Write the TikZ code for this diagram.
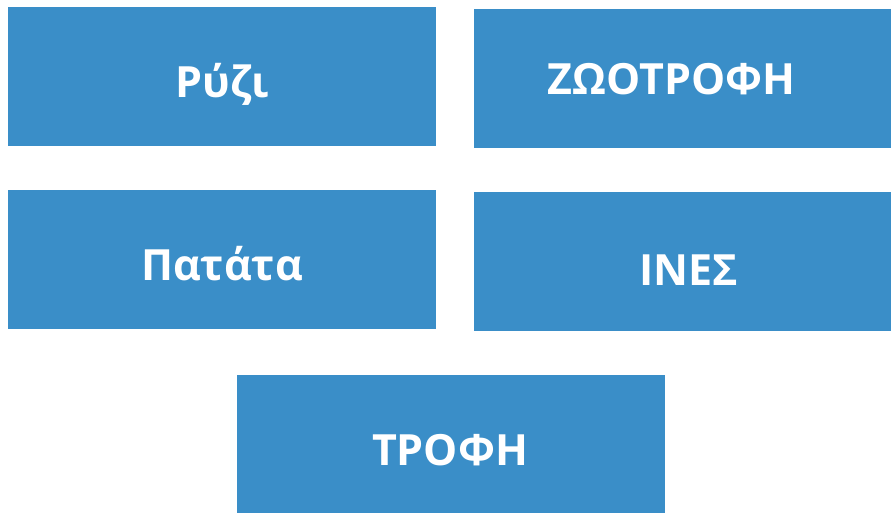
\documentclass[tikz,border=0pt]{standalone}
\usepackage{fontspec}
\setmainfont{Open Sans}
\definecolor{boxblue}{RGB}{58,142,200}
\begin{document}
\begin{tikzpicture}[x=1pt,y=-1pt,
  box/.style={fill=boxblue,draw=none},
  lbl/.style={text=white,font=\fontsize{43}{50}\selectfont\bfseries,anchor=base,inner sep=0pt}]
\useasboundingbox (0,0) rectangle (891,515);
\fill[box] (8,7) rectangle (436,146);
\fill[box] (474,9) rectangle (891,148);
\fill[box] (8,190) rectangle (436,329);
\fill[box] (474,192) rectangle (891,331);
\fill[box] (237,375) rectangle (665,513);
\node[lbl] (ryzi) at (222.5,97) {Ρύζι};
\node[lbl] (zootrofi) at (671.5,94) {ΖΩΟΤΡΟΦΗ};
\node[lbl] (patata) at (222,280) {Πατάτα};
\node[lbl] (ines) at (689,285) {ΙΝΕΣ};
\node[lbl] (trofi) at (450,465) {ΤΡΟΦΗ};
\end{tikzpicture}
\end{document}
